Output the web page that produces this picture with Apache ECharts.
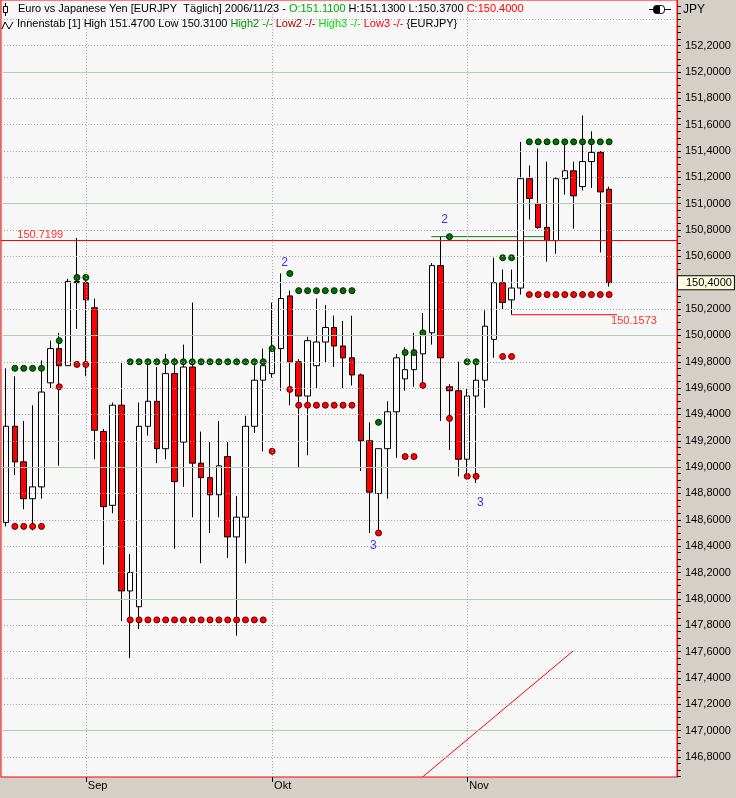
<!DOCTYPE html>
<html>
<head>
<meta charset="utf-8">
<script src="https://cdn.jsdelivr.net/npm/echarts@6/dist/echarts.min.js"></script>
<style>
html,body{margin:0;padding:0;background:#d4d0c8;}
#chart{width:736px;height:798px;}
</style>
</head>
<body>
<div id="chart"></div>
<script>
// ---- data (EUR/JPY daily) ----
const dates = [
'2006-08-21','2006-08-22','2006-08-23','2006-08-24','2006-08-25','2006-08-28','2006-08-29','2006-08-30','2006-08-31',
'2006-09-01','2006-09-04','2006-09-05','2006-09-06','2006-09-07','2006-09-08','2006-09-11','2006-09-12','2006-09-13','2006-09-14','2006-09-15',
'2006-09-18','2006-09-19','2006-09-20','2006-09-21','2006-09-22','2006-09-25','2006-09-26','2006-09-27','2006-09-28','2006-09-29',
'2006-10-02','2006-10-03','2006-10-04','2006-10-05','2006-10-06','2006-10-09','2006-10-10','2006-10-11','2006-10-12','2006-10-13',
'2006-10-16','2006-10-17','2006-10-18','2006-10-19','2006-10-20','2006-10-23','2006-10-24','2006-10-25','2006-10-26','2006-10-27',
'2006-10-30','2006-10-31',
'2006-11-01','2006-11-02','2006-11-03','2006-11-06','2006-11-07','2006-11-08','2006-11-09','2006-11-10','2006-11-13','2006-11-14',
'2006-11-15','2006-11-16','2006-11-17','2006-11-20','2006-11-21','2006-11-22','2006-11-23'
];
const opens = [148.58,149.31,149.04,148.76,148.85,149.64,149.90,149.77,150.41,150.40,
150.21,149.27,148.71,149.47,148.06,147.94,149.31,149.50,149.14,149.71,
149.19,149.76,149.03,148.92,148.79,149.08,148.47,148.62,149.31,149.66,
149.71,149.90,150.30,149.80,149.54,149.77,149.95,150.06,149.92,149.83,
149.70,149.20,148.80,149.14,149.42,149.67,149.74,149.86,150.02,150.53,
149.61,149.58,149.06,149.54,149.66,149.97,150.40,150.27,150.36,151.19,
151.00,150.82,150.72,151.19,151.25,151.13,151.32,151.39,151.11];
const highs = [149.75,149.69,149.35,149.47,149.81,149.96,150.02,150.43,150.74,150.45,
150.28,149.29,149.49,149.80,148.34,149.49,149.78,149.76,149.86,149.83,
149.93,150.25,149.27,149.19,149.35,149.19,148.78,149.39,149.78,149.90,
150.25,150.47,150.34,149.82,149.99,150.28,150.23,150.15,150.11,150.15,
149.71,149.34,149.14,149.50,149.86,149.91,150.02,150.17,150.55,150.75,
149.63,149.80,149.60,149.81,150.19,150.59,150.50,150.50,151.47,151.29,
151.42,151.32,151.20,151.45,151.32,151.67,151.55,151.40,151.13];
const lows = [148.55,148.94,148.68,148.52,148.76,149.60,149.01,149.77,150.05,149.69,
149.06,148.26,148.65,147.83,147.55,147.77,149.24,149.03,149.06,148.38,
148.85,148.62,148.27,148.50,148.62,148.31,147.72,148.27,149.26,149.12,
149.68,149.58,149.47,149.00,149.09,149.60,149.79,149.76,149.60,149.62,
148.97,148.50,148.52,148.76,149.07,149.58,149.61,149.64,149.93,149.35,
149.13,148.93,148.93,148.88,149.45,149.83,150.20,150.1573,150.31,150.88,
150.81,150.56,150.62,151.07,150.81,151.10,151.12,150.63,150.37];
const closes = [149.31,149.04,148.76,148.85,149.57,149.90,149.77,150.41,150.40,150.27,
149.28,148.70,149.47,148.06,148.20,149.31,149.50,149.14,149.71,148.89,
149.76,149.03,148.92,148.79,149.01,148.47,148.62,149.31,149.66,149.77,
149.89,150.28,149.80,149.54,149.96,149.95,150.06,149.92,149.83,149.70,
149.20,148.81,149.14,149.42,149.83,149.74,149.86,150.01,150.53,149.83,
149.58,149.06,149.54,149.66,150.07,150.40,150.25,150.36,151.19,151.04,
150.82,150.7199,151.19,151.25,151.06,151.32,151.39,151.09,150.40];
// Innenstab (inside bar) levels: high / low of mother bar
const insideHigh = [
null,149.75,149.75,149.75,149.75,null,149.96,null,150.44,150.44,
null,null,null,null,149.80,149.80,149.80,149.80,149.80,149.80,
149.80,149.80,149.80,149.80,149.80,149.80,149.80,149.80,149.80,149.80,
149.90,null,150.47,150.34,150.34,150.34,150.34,150.34,150.34,150.34,
null,null,149.34,null,null,149.87,149.87,150.02,null,null,
150.75,null,149.80,149.80,null,null,150.59,150.59,null,151.47,
151.47,151.47,151.47,151.47,151.47,151.47,151.47,151.47,151.47];
const insideLow = [
null,148.55,148.55,148.55,148.55,null,149.61,null,149.78,149.78,
null,null,null,null,147.84,147.84,147.84,147.84,147.84,147.84,
147.84,147.84,147.84,147.84,147.84,147.84,147.84,147.84,147.84,147.84,
149.12,null,149.59,149.47,149.47,149.47,149.47,149.47,149.47,149.47,
null,null,148.50,null,null,149.08,149.08,149.62,null,null,
149.37,null,148.93,148.93,null,null,149.84,149.84,null,150.31,
150.31,150.31,150.31,150.31,150.31,150.31,150.31,150.31,150.31];
// drawn levels / lines
const refLevel = 150.7199;
const lowLine = [[57, 150.1573], [68.9, 150.1573]];
const high2Line = [[47.95, 150.75], [60.65, 150.75]];
const trendLine = [[46.96, 146.647], [63.92, 147.603]];
// annotations [x(index), price, text, color, placement]
const annotations = [
  [1.27, 150.766, '150.7199', '#ff0000', 'right'],
  [68.21, 150.107, '150.1573', '#ff0000', 'right'],
  [31.40, 150.552, '2', '#0000ff', 'inside'],
  [49.44, 150.882, '2', '#0000ff', 'inside'],
  [41.41, 148.401, '3', '#0000ff', 'inside'],
  [53.47, 148.729, '3', '#0000ff', 'inside']
];
// axis ticks
const monthNames = ['Sep', 'Okt', 'Nov'];
const monthPrefixes = ['2006-09', '2006-10', '2006-11'];
const yLabels = [146.8,147.0,147.2,147.4,147.6,147.8,148.0,148.2,148.4,148.6,148.8,149.0,149.2,149.4,149.6,149.8,
150.0,150.2,150.4,150.6,150.8,151.0,151.2,151.4,151.6,151.8,152.0,152.2];
const yGrid = yLabels.concat([152.4]);
const yMin = 146.647, yMax = 152.547;
const xMin = -0.564, xMax = 75.65;

// ---- derived ----
const monthTicks = monthPrefixes.map(p => dates.findIndex(d => d.indexOf(p) === 0));
const minorTicks = [];
yGrid.forEach(v => { [-0.15, -0.1, -0.05, 0].forEach(o => minorTicks.push(+(v + o).toFixed(2))); });
minorTicks.push(152.45, 152.5);
const candleData = dates.map((d, i) => [i, opens[i], closes[i], lows[i], highs[i]]);
const hiDots = [], loDots = [];
insideHigh.forEach((v, i) => { if (v != null) hiDots.push([i, v]); });
insideLow.forEach((v, i) => { if (v != null) loDots.push([i, v]); });
const lastClose = closes[closes.length - 1];

const gridLines = yGrid.map(v => {
  const major = Math.abs(v - Math.round(v)) < 1e-6;
  return { yAxis: v, lineStyle: major ? { color: '#b4cbb4', width: 1, type: 'solid' } : { color: '#a8a8a8', width: 1, type: [1, 2] } };
}).concat(monthTicks.map(i => ({ xAxis: i, lineStyle: { color: '#a8a8a8', width: 1, type: [1, 2] } })));

const FONT = '"Liberation Sans", Arial, sans-serif';
const fmtY = v => v.toFixed(4).replace('.', ',');

const chart = echarts.init(document.getElementById('chart'), null, { renderer: 'canvas' });
chart.setOption({
  animation: false,
  backgroundColor: '#d4d0c8',
  textStyle: { fontFamily: FONT },
  title: [
    {
      left: 18, top: 3, padding: 0,
      text: 'Euro vs Japanese Yen [EURJPY  Täglich] 2006/11/23 - {g|O:151.1100} H:151.1300 L:150.3700 {r|C:150.4000}',
      textStyle: { fontSize: 11, fontWeight: 'normal', color: '#000', fontFamily: FONT,
        rich: { g: { color: '#00b000', fontSize: 11, fontFamily: FONT }, r: { color: '#ff0000', fontSize: 11, fontFamily: FONT } } }
    },
    {
      left: 17, top: 18, padding: 0,
      text: 'Innenstab [1] High 151.4700 Low 150.3100 {g|High2 -/-} {d|Low2 -/-} {l|High3 -/-} {r|Low3 -/-} {EURJPY}',
      textStyle: { fontSize: 11, fontWeight: 'normal', color: '#000', fontFamily: FONT,
        rich: {
          g: { color: '#009000', fontSize: 11, fontFamily: FONT },
          d: { color: '#a00000', fontSize: 11, fontFamily: FONT },
          l: { color: '#00e000', fontSize: 11, fontFamily: FONT },
          r: { color: '#ff0000', fontSize: 11, fontFamily: FONT }
        } }
    }
  ],
  graphic: [
    { type: 'line', shape: { x1: 5.5, y1: 3, x2: 5.5, y2: 16 }, style: { stroke: '#000', lineWidth: 1 } },
    { type: 'rect', shape: { x: 3.5, y: 6.5, width: 4, height: 6 }, style: { fill: '#fff', stroke: '#000', lineWidth: 1 } },
    { type: 'polyline', shape: { points: [[2, 29], [5, 22], [9, 29], [13, 22]] }, style: { stroke: '#000', lineWidth: 1, fill: null } },
    { type: 'rect', shape: { x: 648, y: 3, width: 24, height: 12 }, style: { fill: '#fff' } },
    { type: 'line', shape: { x1: 649, y1: 9.5, x2: 653, y2: 9.5 }, style: { stroke: '#000', lineWidth: 1 } },
    { type: 'rect', shape: { x: 653.5, y: 5.5, width: 5, height: 8, r: [3, 0, 0, 3] }, style: { fill: '#000', stroke: '#000', lineWidth: 1 } },
    { type: 'rect', shape: { x: 659.5, y: 5.5, width: 5, height: 8, r: [0, 3, 3, 0] }, style: { fill: '#fff', stroke: '#000', lineWidth: 1 } },
    { type: 'line', shape: { x1: 665, y1: 9.5, x2: 671, y2: 9.5 }, style: { stroke: '#000', lineWidth: 1 } },
    { type: 'text', x: 683, y: 4, style: { text: 'JPY', fill: '#000', font: '12px ' + FONT } }
  ],
  grid: { left: 1, right: 59, top: 0, bottom: 21, show: true, backgroundColor: '#f7f7f7', borderColor: '#ff0000', borderWidth: 1 },
  xAxis: {
    type: 'value', min: xMin, max: xMax,
    axisLine: { show: false, onZero: false }, splitLine: { show: false },
    axisTick: { show: true, customValues: monthTicks, length: 5, lineStyle: { color: '#000' } },
    axisLabel: { show: true, customValues: monthTicks, margin: 3, align: 'left', padding: [0, 0, 0, 2],
      color: '#000', fontSize: 11, fontFamily: FONT,
      formatter: v => monthNames[monthTicks.indexOf(Math.round(v))] || '' }
  },
  yAxis: {
    type: 'value', position: 'right', min: yMin, max: yMax, scale: true,
    axisLine: { show: true, onZero: false, lineStyle: { color: '#ff0000', width: 1 } }, splitLine: { show: false },
    axisTick: { show: true, inside: false, customValues: minorTicks, length: 4, lineStyle: { color: '#000000', width: 1 } },
    axisLabel: { show: true, customValues: yLabels, margin: 8, color: '#000', fontSize: 11, fontFamily: FONT, formatter: fmtY }
  },
  series: [
    { type: 'line', name: 'grid', data: [], z: 1, silent: true,
      markLine: { silent: true, symbol: ['none', 'none'], label: { show: false }, data: gridLines } },
    { type: 'line', name: 'ref', data: [], z: 2, silent: true,
      markLine: { silent: true, symbol: ['none', 'none'], label: { show: false },
        data: [{ yAxis: refLevel, lineStyle: { color: '#ff0000', width: 1, type: 'solid' } }] } },
    { type: 'line', name: 'trend', data: trendLine, symbol: 'none', z: 2, lineStyle: { color: '#ff0000', width: 1 } },
    { type: 'line', name: 'low', data: lowLine, symbol: 'none', z: 2, lineStyle: { color: '#ff0000', width: 1 } },
    { type: 'line', name: 'high2', data: high2Line, symbol: 'none', z: 2, lineStyle: { color: '#008000', width: 1 } },
    {
      type: 'candlestick', name: 'EURJPY', data: candleData, barWidth: 6, z: 3,
      itemStyle: { color: '#ffffff', color0: '#ff0000', borderColor: '#000000', borderColor0: '#000000', borderWidth: 1 }
    },
    { type: 'line', name: 'last', data: [], z: 6, silent: true,
      markLine: { silent: true, symbol: ['none', 'none'],
        data: [{ yAxis: lastClose, lineStyle: { color: 'rgba(0,0,0,0)', width: 1 },
          label: { show: true, position: 'end', distance: 1, formatter: fmtY(lastClose),
            backgroundColor: '#ffffe1', borderColor: '#000', borderWidth: 1, padding: [1, 2, 1, 8],
            color: '#000', fontSize: 11, fontFamily: FONT } }] } },
    { type: 'scatter', name: 'insideHigh', data: hiDots, symbol: 'circle', symbolSize: 6, z: 4,
      itemStyle: { color: '#007000', borderColor: '#002800', borderWidth: 1, opacity: 1 } },
    { type: 'scatter', name: 'insideLow', data: loDots, symbol: 'circle', symbolSize: 6, z: 4,
      itemStyle: { color: '#ff0000', borderColor: '#600000', borderWidth: 1, opacity: 1 } },
    { type: 'scatter', name: 'annotations', symbolSize: 0, z: 5, silent: true,
      data: annotations.map(a => ({ value: [a[0], a[1]], name: a[2],
        label: { show: true, formatter: a[2], position: a[4], distance: 0, color: a[3],
          fontSize: a[3] === '#0000ff' ? 12 : 11, fontFamily: FONT } })) }
  ]
});
</script>
</body>
</html>
